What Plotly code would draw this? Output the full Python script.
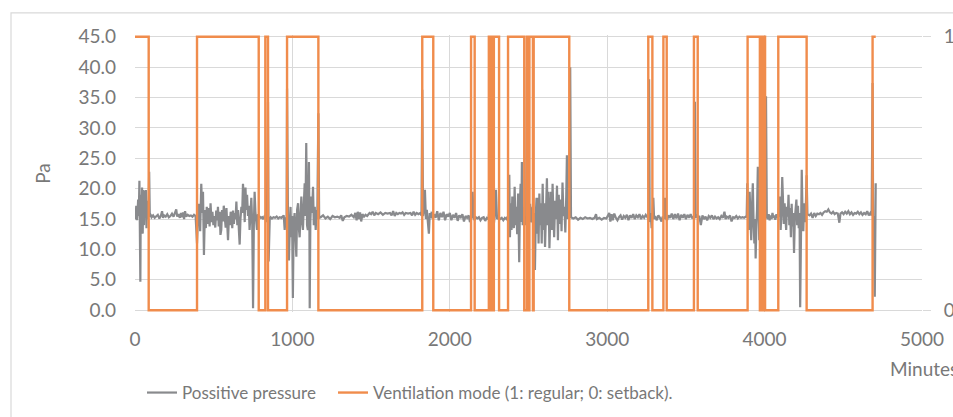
import plotly.graph_objects as go

# ---------------- data ----------------
x_ticks = [0, 1000, 2000, 3000, 4000, 5000]
y_ticks = [0, 5, 10, 15, 20, 25, 30, 35, 40, 45]
y2_ticks = [0, 1]

# Ventilation mode change points (minute) and the mode from that minute on
mode_minute = [0, 87, 394, 786, 828, 845, 966, 1165, 1825, 1895, 2135, 2158,
               2248, 2258, 2264, 2274, 2280, 2313, 2370, 2473, 2490, 2500,
               2506, 2528, 2533, 2759, 3261, 3287, 3357, 3378, 3551, 3575,
               3892, 3970, 3978, 3990, 3995, 4003, 4087, 4267, 4686, 4706]
mode_value = [1, 0, 1, 0, 1, 0, 1, 0, 1, 0, 1, 0,
              1, 0, 1, 0, 1, 0, 1, 0, 1, 0,
              1, 0, 1, 0, 1, 0, 1, 0, 1, 0,
              1, 0, 1, 0, 1, 0, 1, 0, 1, 1]

# Positive pressure readings (minute, Pa)
pressure_minute = [
    0, 4, 8, 12, 16, 20, 24, 28, 31, 34, 37, 41, 45, 49, 53, 57, 61, 65, 69, 73, 77, 81, 86, 90, 94, 98,
    105, 115, 125, 135, 145, 155, 165, 172, 178, 185, 195, 205, 215, 225, 235, 245, 255, 262, 268, 275,
    285, 292, 298, 305, 312, 318, 325, 335, 345, 355, 365, 375, 385,
    394, 400, 407, 414, 421, 427, 432, 438, 444, 450, 456, 462, 468, 474, 480, 486, 492, 498, 504, 510,
    516, 522, 527, 532, 538, 543, 548, 553, 559, 564, 570, 576, 581, 586, 591, 597, 602, 608, 613, 618,
    623, 628, 634, 639, 644, 650, 655, 660, 665, 670, 676, 681, 686, 692, 697, 702, 707, 712, 718, 723,
    728, 734, 739, 745, 750, 755, 760, 765, 770, 775, 781, 786,
    792, 800, 808, 815, 822, 828, 832, 838, 845, 849, 856, 862, 870, 880, 890, 900, 910, 920, 930, 938,
    945, 951, 957, 963,
    966, 972, 978, 984, 988, 993, 998, 1003, 1008, 1014, 1019, 1025, 1030, 1036, 1041, 1046, 1052, 1057,
    1062, 1067, 1072, 1078, 1083, 1088, 1093, 1098, 1102, 1105, 1108, 1110, 1114, 1120, 1125, 1131, 1136,
    1142, 1148, 1153, 1158, 1165, 1170,
    1180, 1195, 1210, 1225, 1240, 1255, 1270, 1285, 1300, 1310, 1320, 1330, 1345, 1360, 1375, 1390, 1400,
    1408, 1415, 1422, 1430, 1437, 1445, 1455, 1465, 1475, 1490, 1500, 1510, 1520, 1530, 1545, 1560, 1575,
    1590, 1605, 1620, 1630, 1640, 1650, 1660, 1670, 1680, 1690, 1700, 1710, 1720, 1735, 1750, 1760, 1770,
    1780, 1790, 1800, 1812, 1820,
    1825, 1830, 1836, 1842, 1848, 1854, 1860, 1867, 1873, 1879, 1885, 1891,
    1900, 1910, 1920, 1930, 1940, 1950, 1960, 1970, 1980, 1990, 2000, 2010, 2020, 2030, 2040, 2050, 2060,
    2070, 2080, 2090, 2100, 2110, 2120, 2128,
    2138, 2145, 2150, 2157, 2165, 2175, 2185, 2195, 2205, 2215, 2225, 2235, 2245, 2250, 2256, 2262, 2268,
    2274, 2280, 2287, 2293, 2300, 2310, 2320, 2330, 2340, 2350, 2360, 2368,
    2375, 2378, 2382, 2387, 2392, 2397, 2402, 2407, 2412, 2417, 2422, 2428, 2434, 2441, 2446, 2450, 2455,
    2458, 2463, 2467, 2472,
    2478, 2485, 2490, 2495, 2500, 2505, 2510, 2515, 2520, 2526, 2532, 2536, 2541, 2546, 2551, 2555, 2560,
    2564, 2569, 2574, 2579, 2584, 2590, 2595, 2600, 2605, 2611, 2617, 2622, 2627, 2633, 2638, 2643, 2648,
    2653, 2658, 2663, 2669, 2675, 2681, 2687, 2692, 2698, 2704, 2710, 2716, 2722, 2728, 2734, 2740, 2744,
    2750, 2755, 2760, 2765, 2770,
    2785, 2800, 2815, 2830, 2845, 2860, 2875, 2890, 2905, 2920, 2929, 2935, 2950, 2965, 2980, 2995, 3005,
    3013, 3020, 3028, 3035, 3045, 3055, 3065, 3075, 3085, 3095, 3105, 3115, 3125, 3135, 3145, 3155, 3165,
    3175, 3185, 3195, 3205, 3215, 3225, 3235, 3245, 3255,
    3263, 3266, 3270, 3276, 3282, 3287, 3293, 3298,
    3305, 3315, 3325, 3335, 3345, 3352, 3360, 3367, 3372, 3380,
    3390, 3400, 3410, 3420, 3430, 3440, 3450, 3460, 3470, 3480, 3490, 3500, 3510, 3520, 3530, 3540, 3548,
    3553, 3557, 3562, 3568, 3575,
    3585, 3595, 3605, 3615, 3625, 3635, 3645, 3655, 3665, 3675, 3685, 3695, 3705, 3715, 3725, 3735, 3745,
    3752, 3760, 3770, 3780, 3790, 3800, 3810, 3820, 3830, 3840, 3850, 3860, 3870, 3880,
    3886, 3890, 3895, 3900, 3905, 3910, 3915, 3920, 3925, 3930, 3935, 3940, 3943, 3948, 3952, 3957, 3962,
    3966, 3971, 3976, 3981, 3986, 3992, 3998, 4004, 4009, 4014, 4020, 4026, 4032, 4038, 4044, 4050, 4056,
    4062, 4068, 4075, 4082,
    4087, 4092, 4097, 4102, 4107, 4112, 4117, 4122, 4127, 4132, 4137, 4142, 4147, 4152, 4157, 4162, 4167,
    4172, 4176, 4182, 4187, 4192, 4197, 4202, 4207, 4212, 4217, 4222, 4226, 4231, 4236, 4241, 4246, 4251,
    4256, 4261, 4267, 4272,
    4285, 4295, 4305, 4315, 4325, 4335, 4345, 4355, 4365, 4375, 4385, 4395, 4405, 4415, 4425, 4435, 4445,
    4455, 4465, 4475, 4482, 4492, 4502, 4512, 4522, 4532, 4542, 4552, 4562, 4572, 4582, 4592, 4602, 4612,
    4622, 4632, 4642, 4652, 4662, 4672, 4680,
    4686, 4690, 4694, 4700, 4706,
]
pressure_pa = [
    16.5, 15.0, 17.2, 14.8, 16.0, 18.2, 15.5, 21.3, 13.0, 4.7, 19.0, 13.2, 20.2, 12.6, 19.8, 14.0, 19.6,
    15.2, 19.8, 13.5, 18.0, 15.0, 16.5, 22.8, 15.4, 15.8,
    15.3, 15.6, 15.2, 15.5, 15.7, 15.1, 15.6, 16.3, 15.2, 15.6, 15.4, 15.8, 15.3, 15.5, 15.9, 15.4, 16.2,
    16.6, 15.4, 15.8, 15.2, 16.0, 15.3, 16.1, 15.0, 16.3, 15.4, 15.7, 15.5, 15.6, 15.4, 15.7, 15.5,
    11.0, 15.0, 17.5, 13.0, 20.8, 16.0, 19.5, 9.1, 16.5, 13.5, 17.0, 14.2, 16.8, 13.8, 17.6, 14.5, 16.2,
    14.0, 15.5, 13.6, 16.4, 14.8, 17.0, 13.8, 16.2, 12.4, 13.2, 16.5, 14.6, 17.2, 15.8, 13.6, 16.8, 13.0,
    11.5, 15.5, 14.0, 16.2, 15.5, 13.5, 16.4, 14.2, 16.0, 15.0, 17.9, 14.0, 16.5, 13.2, 10.8, 15.0, 17.0,
    16.0, 20.8, 18.0, 14.5, 20.2, 16.5, 19.0, 15.5, 17.2, 13.2, 16.0, 18.5, 14.0, 0.3, 14.0, 19.5, 16.2,
    14.5, 13.2, 15.8, 15.4,
    15.4, 15.2, 15.3, 15.0, 15.4, 15.2, 16.0, 14.5, 34.3, 8.0, 15.0, 15.3, 15.1, 15.3, 15.2, 15.4, 15.1,
    15.3, 15.2, 15.5, 15.6, 13.2, 15.3, 14.8,
    36.5, 15.0, 8.2, 14.5, 17.0, 12.0, 15.5, 2.0, 14.0, 16.0, 13.0, 8.8, 16.5, 17.6, 13.5, 12.0, 16.0,
    18.7, 14.5, 13.2, 17.0, 20.9, 15.5, 27.5, 14.0, 13.2, 18.0, 24.4, 15.0, 0.3, 14.5, 18.7, 16.0, 20.3,
    14.0, 17.0, 13.2, 16.5, 15.0, 32.4, 15.2,
    15.3, 15.6, 15.1, 15.4, 15.0, 15.5, 15.3, 15.4, 15.2, 15.6, 14.7, 15.3, 15.5, 15.4, 15.7, 15.3, 16.0,
    14.8, 16.2, 15.0, 16.1, 14.6, 15.8, 15.4, 15.7, 15.5, 16.0, 15.8, 16.2, 15.6, 16.0, 15.8, 16.1, 15.7,
    16.0, 15.9, 16.0, 15.6, 16.3, 15.5, 16.0, 15.8, 16.0, 15.9, 16.1, 15.7, 16.0, 15.9, 16.0, 15.6, 16.2,
    15.7, 16.0, 15.8, 16.0, 15.6,
    36.3, 15.5, 16.5, 19.8, 15.0, 16.5, 14.0, 12.6, 16.0, 15.2, 16.2, 15.0,
    15.8, 15.2, 16.3, 14.8, 16.0, 15.3, 16.2, 14.8, 15.8, 15.4, 16.0, 14.8, 15.7, 15.2, 16.0, 14.7, 15.6,
    15.3, 15.8, 14.6, 15.5, 15.2, 15.6, 14.5,
    15.2, 19.5, 15.4, 14.8, 15.3, 15.1, 15.3, 14.8, 15.2, 15.3, 14.7, 15.2, 15.0, 16.0, 14.5, 30.0, 14.0,
    16.5, 14.2, 16.0, 19.8, 15.0, 15.3, 15.0, 15.2, 14.8, 15.2, 15.0, 15.4,
    15.0, 22.3, 12.0, 17.6, 13.2, 18.7, 15.4, 13.5, 20.3, 14.0, 17.0, 12.5, 19.2, 7.9, 18.0, 20.8, 14.5,
    24.4, 14.0, 17.0, 15.0,
    15.2, 14.0, 40.0, 15.0, 15.8, 14.5, 17.5, 15.0, 14.5, 17.0, 14.0, 16.0, 6.6, 15.5, 18.5, 12.6, 18.5,
    11.0, 19.2, 14.0, 17.6, 11.0, 20.8, 13.2, 17.6, 10.4, 15.5, 21.7, 14.0, 19.5, 10.2, 17.6, 19.5, 13.2,
    20.8, 16.0, 12.0, 18.0, 15.0, 20.5, 11.5, 19.0, 14.2, 18.2, 13.0, 21.0, 15.5, 17.0, 12.8, 19.0, 25.5,
    15.0, 18.0, 15.2, 40.0, 15.3,
    15.1, 15.3, 14.9, 15.2, 15.0, 15.3, 15.1, 15.2, 15.0, 15.2, 15.8, 15.0, 15.2, 14.9, 15.2, 15.1, 15.6,
    16.0, 14.6, 15.8, 14.8, 15.9, 15.2, 14.8, 15.3, 15.6, 14.9, 15.5, 15.2, 15.7, 14.8, 15.6, 15.2, 15.8,
    15.0, 15.6, 15.3, 15.8, 15.0, 15.5, 15.2, 15.7, 15.3,
    15.0, 38.0, 14.5, 16.0, 13.5, 15.5, 18.5, 15.0,
    15.5, 14.8, 15.6, 15.2, 14.6, 15.4, 15.0, 18.5, 15.2, 14.8,
    15.6, 15.2, 15.9, 15.0, 15.8, 15.1, 15.9, 14.8, 15.7, 15.2, 15.8, 15.0, 15.7, 15.2, 15.8, 15.1, 15.4,
    15.0, 34.3, 15.2, 15.8, 15.2,
    15.5, 14.0, 15.6, 15.0, 15.4, 14.8, 15.5, 15.2, 15.6, 15.0, 15.4, 15.1, 15.3, 15.0, 15.5, 15.2, 16.2,
    15.0, 15.4, 15.2, 15.6, 14.6, 15.3, 15.2, 15.5, 15.1, 15.4, 15.2, 15.3, 15.2, 15.4,
    15.3, 20.9, 15.5, 13.2, 19.5, 15.0, 11.5, 17.0, 20.9, 14.5, 11.0, 15.0, 8.5, 14.0, 16.5, 23.6, 13.0,
    11.5, 17.6, 14.0, 16.0, 12.5, 15.0, 14.5, 16.0, 35.2, 15.3, 15.0, 15.8, 14.8, 15.6, 15.0, 16.0, 15.2,
    15.6, 14.9, 15.8, 15.2,
    15.5, 17.5, 18.7, 13.2, 16.0, 21.9, 15.0, 14.2, 17.6, 15.5, 13.2, 17.0, 15.4, 19.0, 14.0, 16.8, 12.0,
    17.5, 13.8, 16.0, 9.4, 15.0, 17.6, 18.2, 14.0, 17.2, 13.5, 16.0, 0.5, 15.0, 23.1, 15.5, 13.0, 17.6,
    14.5, 16.0, 22.2, 15.8,
    15.6, 15.9, 15.2, 16.0, 15.5, 15.9, 15.8, 16.0, 15.7, 16.1, 16.3, 16.2, 16.6, 16.1, 15.9, 16.2, 15.8,
    16.0, 15.9, 14.4, 15.9, 16.1, 15.8, 16.2, 15.9, 16.3, 15.8, 16.1, 15.7, 16.0, 15.9, 16.2, 15.8, 16.1,
    15.7, 16.0, 15.8, 16.3, 15.6, 16.0, 15.6,
    37.4, 12.0, 15.5, 2.2, 20.9,
]
assert len(pressure_minute) == len(pressure_pa), (len(pressure_minute), len(pressure_pa))
assert len(mode_minute) == len(mode_value)

# ---------------- styling / layout ----------------
W, H = 953, 417
PLOT_L, PLOT_R = 135, 922          # pixel x of minute 0 / 5000
Y0_PX, Y45_PX = 310, 37            # pixel y of 0 Pa / 45 Pa
PAD = 0.3                          # small range padding so lines at 0/1 are not clipped
px_per_pa = (Y0_PX - Y45_PX) / 45.0
top_px = Y45_PX - PAD * px_per_pa
bot_px = Y0_PX + PAD * px_per_pa
plot_h = bot_px - top_px
plot_w = PLOT_R - PLOT_L


def px_x(px):
    return (px - PLOT_L) / plot_w


def px_y(py):
    return (bot_px - py) / plot_h


GRID = "#d9d9d9"
TXT = "#787878"
FONT = "Lato"

fig = go.Figure()
fig.add_trace(go.Scatter(
    x=pressure_minute, y=pressure_pa, mode="lines", name="Possitive pressure",
    line=dict(color="#898A8D", width=2.2), yaxis="y", legend="legend"))
fig.add_trace(go.Scatter(
    x=mode_minute, y=mode_value, mode="lines",
    name="Ventilation mode (1: regular; 0: setback).",
    line=dict(color="#F08C4C", width=2.4, shape="hv"), yaxis="y2", legend="legend2"))

legend_common = dict(orientation="h", xref="container", yref="container", xanchor="left",
                     yanchor="middle", font=dict(size=17, color=TXT), bgcolor="rgba(0,0,0,0)",
                     itemwidth=30)

fig.update_layout(
    width=W, height=H,
    margin=dict(l=PLOT_L, r=W - PLOT_R, t=top_px, b=H - bot_px, pad=0, autoexpand=False),
    paper_bgcolor="white", plot_bgcolor="white",
    font=dict(family=FONT, color=TXT, size=19),
    showlegend=True,
    legend=dict(x=142 / W, y=(H - 393) / H, **legend_common),
    legend2=dict(x=333 / W, y=(H - 393) / H, **legend_common),
    xaxis=dict(range=[0, 5000], tickvals=x_ticks, showgrid=True, gridcolor=GRID, gridwidth=1.4,
               zeroline=False, showline=False, ticks="", tickfont=dict(size=19, color=TXT),
               ticklabelstandoff=14),
    yaxis=dict(range=[-PAD, 45 + PAD], tickvals=y_ticks, tickformat=".1f", showgrid=True,
               gridcolor=GRID, gridwidth=1.4, zeroline=False, showline=False, ticks="",
               tickfont=dict(size=19, color=TXT), ticklabelstandoff=18,
               title=dict(text="Pa", font=dict(size=19, color=TXT), standoff=22)),
    yaxis2=dict(range=[-PAD / 45, 1 + PAD / 45], tickvals=y2_ticks, overlaying="y", side="right",
                showgrid=False, zeroline=False, showline=False, ticks="outside", ticklen=8,
                tickcolor=GRID, tickwidth=1.4, tickfont=dict(size=19, color=TXT),
                ticklabelstandoff=9),
    shapes=[dict(type="rect", xref="paper", yref="paper", x0=px_x(11), y0=px_y(430),
                 x1=px_x(970), y1=px_y(13), line=dict(color=GRID, width=1.2),
                 fillcolor="rgba(0,0,0,0)", layer="below")],
    annotations=[dict(text="Minutes", xref="paper", yref="paper", x=px_x(888), y=px_y(368),
                      xanchor="left", yanchor="middle", showarrow=False,
                      font=dict(size=19, color=TXT))],
)

# remove the browser's default 8px page margin so the figure sits at the window origin
fig.write_html("out.html", config={"displayModeBar": False},
               post_script="document.body.style.margin='0';")
